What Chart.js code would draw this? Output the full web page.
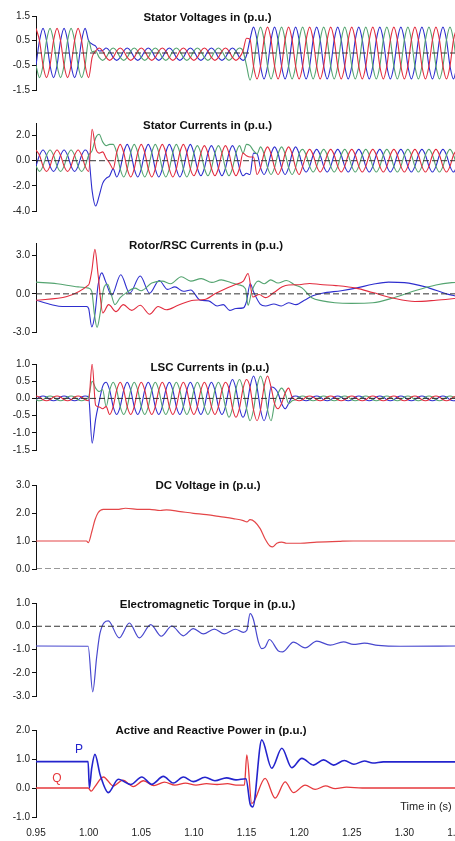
<!DOCTYPE html>
<html>
<head>
<meta charset="utf-8">
<script src="https://cdn.jsdelivr.net/npm/chart.js@4.4.1/dist/chart.umd.min.js"></script>
<style>
html, body { margin: 0; padding: 0; background: #fff; width: 455px; height: 841px; overflow: hidden; }
canvas { position: absolute; left: 0; }
</style>
</head>
<body>
<canvas id="c1"></canvas>
<canvas id="c2"></canvas>
<canvas id="c3"></canvas>
<canvas id="c4"></canvas>
<canvas id="c5"></canvas>
<canvas id="c6"></canvas>
<canvas id="c7"></canvas>
<script>
// time axis
const xTicks = [0.95, 1.00, 1.05, 1.10, 1.15, 1.20, 1.25, 1.30, 1.35];
// sampled waveforms: one value every 1/300 s from 0.95 s
const sampleStart = 0.95, sampleStep = 1 / 300;
const tGrid = [];
for (let k = 0; k <= 120; k++) tGrid.push(sampleStart + k * sampleStep);

// ---- Stator voltages
const svRed = [
  1,.5,-.5,-1,-.5,.5, 1,.5,-.5,-1,-.5,.5, 1,.5,-.5,-1,
  -.18,.08,.2,.08, -.18,-.3,-.18,.08,
  .2,.08,-.18,-.3,-.18,.08, .2,.08,-.18,-.3,-.18,.08, .2,.08,-.18,-.3,-.18,.08,
  .2,.08,-.18,-.3,-.18,.08, .2,.08,-.18,-.3,-.18,.08, .2,.08,-.18,-.3,-.18,.08,
  .6, .55, -.53,-1.05,-.53,.53,
  1.05,.53,-.53,-1.05,-.53,.53, 1.05,.53,-.53,-1.05,-.53,.53, 1.05,.53,-.53,-1.05,-.53,.53,
  1.05,.53,-.53,-1.05,-.53,.53, 1.05,.53,-.53,-1.05,-.53,.53, 1.05,.53,-.53,-1.05,-.53,.53,
  1.05,.53,-.53,-1.05,-.53,.53, 1.05,.53,-.53,-1.05,-.53,.53, 1.05,.53,-.53,-1.05,-.53,.53,
  1.05
];
const svGreen = [
  -.5,-1,-.5,.5,1,.5, -.5,-1,-.5,.5,1,.5, -.5,-1,-.5,.5,
  .05,.08,-.18,-.3, -.18,.08,.2,.08,
  -.18,-.3,-.18,.08,.2,.08, -.18,-.3,-.18,.08,.2,.08, -.18,-.3,-.18,.08,.2,.08,
  -.18,-.3,-.18,.08,.2,.08, -.18,-.3,-.18,.08,.2,.08, -.18,-.3,-.18,.08,.2,.08,
  -.5, -1.1, -.53,.53,1.05,.53,
  -.53,-1.05,-.53,.53,1.05,.53, -.53,-1.05,-.53,.53,1.05,.53, -.53,-1.05,-.53,.53,1.05,.53,
  -.53,-1.05,-.53,.53,1.05,.53, -.53,-1.05,-.53,.53,1.05,.53, -.53,-1.05,-.53,.53,1.05,.53,
  -.53,-1.05,-.53,.53,1.05,.53, -.53,-1.05,-.53,.53,1.05,.53, -.53,-1.05,-.53,.53,1.05,.53,
  -.53
];
const svBlue = [
  -.5,.5,1,.5,-.5,-1, -.5,.5,1,.5,-.5,-1, -.5,.5,1,.5,
  .36,.28,.08,.1, .2,.08,-.18,-.3,
  -.18,.08,.2,.08,-.18,-.3, -.18,.08,.2,.08,-.18,-.3, -.18,.08,.2,.08,-.18,-.3,
  -.18,.08,.2,.08,-.18,-.3, -.18,.08,.2,.08,-.18,-.3, -.18,.08,.2,.08,-.18,-.3,
  -.1, .55, 1.05,.53,-.53,-1.05,
  -.53,.53,1.05,.53,-.53,-1.05, -.53,.53,1.05,.53,-.53,-1.05, -.53,.53,1.05,.53,-.53,-1.05,
  -.53,.53,1.05,.53,-.53,-1.05, -.53,.53,1.05,.53,-.53,-1.05, -.53,.53,1.05,.53,-.53,-1.05,
  -.53,.53,1.05,.53,-.53,-1.05, -.53,.53,1.05,.53,-.53,-1.05, -.53,.53,1.05,.53,-.53,-1.05,
  -.53
];

// ---- Stator currents
const scRed = [
  .85,.43,-.43,-.85,-.43,.43, .85,.43,-.43,-.85,-.43,.43, .85,.43,-.43,-.85,
  2.5,1.0,.6,.7,.2,-.2,
  -.65,.65,
  1.3,.65,-.65,-1.3,-.65,.65, 1.3,.65,-.65,-1.3,-.65,.65, 1.3,.65,-.65,-1.3,-.65,.65,
  1.3,.65,-.65,
  -1.2,-.6,.6,
  1.2,.6,-.6,-1.2,-.6,.6, 1.2,.6,-.6,-1.2,-.6,.6,
  .4,.3,.3,
  -1.1,-.55,.55,
  1.1,.55,-.55,-1.1,-.55,.55,
  1.1,.55,-.55,-1.1,
  -.45,.45,
  .9,.45,-.45,-.9,-.45,.45, .9,.45,-.45,-.9,-.45,.45, .9,.45,-.45,-.9,-.45,.45,
  .9,.45,-.45,-.9,-.45,.45, .9,.45,-.45,-.9,-.45,.45, .9,.45,-.45,-.9,-.45,.45,
  .9,.45,-.45,-.9,-.45,.45,
  .9
];
const scGreen = [
  -.43,-.85,-.43,.43,.85,.43, -.43,-.85,-.43,.43,.85,.43, -.43,-.85,-.43,.43,
  .8,1.8,2.1,1.5,1.2,1.3,
  1.3,.65,
  -.65,-1.3,-.65,.65,1.3,.65, -.65,-1.3,-.65,.65,1.3,.65, -.65,-1.3,-.65,.65,1.3,.65,
  -.65,-1.3,-.65,
  .6,1.2,.6,
  -.6,-1.2,-.6,.6,1.2,.6, -.6,-1.2,-.6,.6,1.2,.6,
  1.3,1.2,.8,
  .55,1.1,.55,
  -.55,-1.1,-.55,.55,1.1,.55,
  -.55,-1.1,-.55,.55,
  .9,.45,
  -.45,-.9,-.45,.45,.9,.45, -.45,-.9,-.45,.45,.9,.45, -.45,-.9,-.45,.45,.9,.45,
  -.45,-.9,-.45,.45,.9,.45, -.45,-.9,-.45,.45,.9,.45, -.45,-.9,-.45,.45,.9,.45,
  -.45,-.9,-.45,.45,.9,.45,
  -.45
];
const scBlue = [
  -.43,.43,.85,.43,-.43,-.85, -.43,.43,.85,.43,-.43,-.85, -.43,.43,.85,.43,
  -2.4,-3.6,-2.8,-1.8,-1.4,-1.2,
  -.65,-1.3,
  -.65,.65,1.3,.65,-.65,-1.3, -.65,.65,1.3,.65,-.65,-1.3, -.65,.65,1.3,.65,-.65,-1.3,
  -.65,.65,1.3,
  .6,-.6,-1.2,
  -.6,.6,1.2,.6,-.6,-1.2, -.6,.6,1.2,.6,-.6,-1.2,
  -1.0,-1.1,.6,
  .55,-.55,-1.1,
  -.55,.55,1.1,.55,-.55,-1.1,
  -.55,.55,1.1,.55,
  -.45,-.9,
  -.45,.45,.9,.45,-.45,-.9, -.45,.45,.9,.45,-.45,-.9, -.45,.45,.9,.45,-.45,-.9,
  -.45,.45,.9,.45,-.45,-.9, -.45,.45,.9,.45,-.45,-.9, -.45,.45,.9,.45,-.45,-.9,
  -.45,.45,.9,.45,-.45,-.9,
  -.45
];

// ---- Rotor / RSC currents  [time, value]
const rotorRed = [
  [0.95,-0.5],[1.0,0.7],[1.003,1.8],[1.006,3.5],[1.009,1.5],[1.0135,-1.5],[1.019,-0.85],[1.026,-1.4],
  [1.033,-0.85],[1.041,-1.3],[1.049,-0.9],[1.058,-1.6],[1.066,-1.0],[1.074,-1.25],[1.085,-0.9],[1.1,-0.5],
  [1.11,-0.45],[1.12,0.0],[1.13,0.4],[1.14,0.75],[1.147,1.0],[1.1515,1.6],[1.156,-0.25],[1.162,-0.05],
  [1.168,-0.3],[1.176,0.1],[1.184,0.55],[1.19,0.7],[1.2,0.72],[1.21,0.82],[1.22,0.74],[1.235,0.65],
  [1.254,0.45],[1.27,0.1],[1.29,-0.35],[1.31,-0.6],[1.33,-0.5],[1.35,-0.35]
];
const rotorGreen = [
  [0.95,0.92],[0.97,0.8],[0.99,0.55],[1.0,0.45],[1.003,0.2],[1.0055,-1.6],[1.008,-2.65],[1.011,-1.5],
  [1.014,0.3],[1.018,0.76],[1.021,0.1],[1.025,-0.85],[1.03,-0.3],[1.036,0.1],[1.044,0.45],[1.05,0.25],
  [1.06,0.85],[1.07,1.0],[1.078,0.8],[1.088,1.35],[1.097,1.0],[1.107,1.2],[1.117,0.9],[1.126,1.1],
  [1.135,0.9],[1.143,0.7],[1.149,0.4],[1.1515,-0.9],[1.155,0.2],[1.161,1.0],[1.167,0.8],[1.173,1.1],
  [1.18,0.85],[1.188,1.05],[1.196,0.7],[1.203,0.45],[1.212,-0.3],[1.222,-0.55],[1.234,-0.7],[1.25,-0.75],
  [1.27,-0.7],[1.29,-0.3],[1.31,0.25],[1.33,0.7],[1.345,0.88],[1.35,0.9]
];
const rotorBlue = [
  [0.95,-0.5],[0.965,-0.85],[0.975,-1.0],[0.998,-1.0],[1.0,-1.15],[1.003,-2.6],[1.006,-1.6],[1.009,0.7],
  [1.0125,1.65],[1.016,1.0],[1.022,-0.1],[1.0305,1.5],[1.039,0.05],[1.049,1.4],[1.058,0.05],[1.067,1.05],
  [1.075,0.35],[1.082,0.55],[1.09,0.2],[1.097,0.3],[1.106,-0.5],[1.114,-0.55],[1.122,-0.95],[1.128,-0.85],
  [1.134,-1.3],[1.14,-1.15],[1.147,-1.1],[1.15,-0.6],[1.1535,0.8],[1.157,0.1],[1.163,-0.8],[1.168,-0.95],
  [1.176,-0.8],[1.183,-0.95],[1.19,-0.7],[1.197,-0.85],[1.205,-0.5],[1.213,-0.15],[1.222,0.05],[1.24,0.25],
  [1.254,0.45],[1.27,0.75],[1.285,0.92],[1.3,0.88],[1.32,0.55],[1.34,0.0],[1.35,-0.2]
];

// ---- LSC currents
const lcRed = [
  .07,.04,-.04,-.07,-.04,.04, .07,.04,-.04,-.07,-.04,.04, .07,.04,-.04,-.07,
  1.0,-.2,-.25,-.3,
  -.24,-.47,-.24,.24,
  .47,.24,-.24,-.47,-.24,.24, .47,.24,-.24,-.47,-.24,.24, .47,.24,-.24,-.47,-.24,.24,
  .47,.24,-.24,-.47,-.24,.24, .47,.24,-.24,-.47,-.24,.24,
  .47,
  .28,-.28,-.55,-.28,.28,
  .55,
  .33,-.33,-.65,-.33,.33,
  .65,.33,
  -.15,-.3,-.15,.15,
  .3,
  .04,-.04,-.07,-.04,.04,
  .07,.04,-.04,-.07,-.04,.04, .07,.04,-.04,-.07,-.04,.04, .07,.04,-.04,-.07,-.04,.04,
  .07,.04,-.04,-.07,-.04,.04, .07,.04,-.04,-.07,-.04,.04, .07,.04,-.04,-.07,-.04,.04,
  .07,.04,-.04,-.07,-.04,.04,
  .07
];
const lcGreen = [
  -.04,-.07,-.04,.04,.07,.04, -.04,-.07,-.04,.04,.07,.04, -.04,-.07,-.04,.04,
  .5,.3,.2,.25,
  -.24,.24,.47,.24,
  -.24,-.47,-.24,.24,.47,.24, -.24,-.47,-.24,.24,.47,.24, -.24,-.47,-.24,.24,.47,.24,
  -.24,-.47,-.24,.24,.47,.24, -.24,-.47,-.24,.24,.47,.24,
  -.24,
  -.55,-.28,.28,.55,.28,
  -.28,
  -.65,-.33,.33,.65,.33,
  -.33,-.65,
  -.15,.15,.3,.15,
  -.15,
  -.07,-.04,.04,.07,.04,
  -.04,-.07,-.04,.04,.07,.04, -.04,-.07,-.04,.04,.07,.04, -.04,-.07,-.04,.04,.07,.04,
  -.04,-.07,-.04,.04,.07,.04, -.04,-.07,-.04,.04,.07,.04, -.04,-.07,-.04,.04,.07,.04,
  -.04,-.07,-.04,.04,.07,.04,
  -.04
];
const lcBlue = [
  -.04,.04,.07,.04,-.04,-.07, -.04,.04,.07,.04,-.04,-.07, -.04,.04,.07,.04,
  -1.3,-.6,-.1,.35,
  .47,.24,-.24,-.47,
  -.24,.24,.47,.24,-.24,-.47, -.24,.24,.47,.24,-.24,-.47, -.24,.24,.47,.24,-.24,-.47,
  -.24,.24,.47,.24,-.24,-.47, -.24,.24,.47,.24,-.24,-.47,
  -.24,
  .28,.55,.28,-.28,-.55,
  -.28,
  .33,.65,.33,-.33,-.65,
  -.33,.33,
  .3,.15,-.15,-.3,
  -.15,
  .04,.07,.04,-.04,-.07,
  -.04,.04,.07,.04,-.04,-.07, -.04,.04,.07,.04,-.04,-.07, -.04,.04,.07,.04,-.04,-.07,
  -.04,.04,.07,.04,-.04,-.07, -.04,.04,.07,.04,-.04,-.07, -.04,.04,.07,.04,-.04,-.07,
  -.04,.04,.07,.04,-.04,-.07,
  -.04
];

// ---- DC voltage
const dcVoltage = [
  [0.95,1.0],[0.998,1.0],[0.9997,0.94],[1.003,1.33],[1.006,1.75],[1.009,2.01],[1.014,2.13],[1.027,2.13],
  [1.035,2.17],[1.049,2.13],[1.058,2.13],[1.068,2.09],[1.074,2.11],[1.087,2.05],[1.0995,1.99],[1.112,1.94],
  [1.125,1.87],[1.1375,1.8],[1.147,1.73],[1.1503,1.68],[1.1534,1.76],[1.158,1.68],[1.163,1.44],[1.1677,1.07],
  [1.172,0.83],[1.175,0.79],[1.1788,0.92],[1.1836,0.96],[1.188,0.92],[1.201,0.92],[1.2168,0.96],[1.239,0.99],
  [1.2513,1.0],[1.35,1.0]
];

// ---- Electromagnetic torque
const torque = [
  [0.95,-0.85],[0.9995,-0.86],[1.0039,-2.82],[1.0077,-1.3],[1.0108,-0.3],[1.0187,0.23],[1.029,-0.5],[1.0387,0.14],
  [1.0482,-0.5],[1.059,0.07],[1.069,-0.43],[1.079,0.01],[1.09,-0.41],[1.0995,-0.1],[1.109,-0.33],[1.1195,-0.12],
  [1.129,-0.33],[1.1395,-0.13],[1.147,-0.26],[1.1503,-0.17],[1.1534,0.54],[1.1565,0.3],[1.1613,-0.67],[1.1645,-0.96],
  [1.1677,-0.9],[1.1718,-0.57],[1.1803,-1.06],[1.1845,-1.1],[1.1946,-0.68],[1.2057,-0.93],[1.2168,-0.64],[1.2295,-0.81],
  [1.2421,-0.67],[1.2516,-0.78],[1.262,-0.73],[1.275,-0.82],[1.296,-0.86],[1.35,-0.85]
];

// ---- Active / reactive power
const activeP = [
  [0.95,0.91],[0.9995,0.91],[1.0007,0.0],[1.003,0.7],[1.006,1.16],[1.011,0.45],[1.0187,-0.16],[1.0282,0.3],
  [1.04,0.12],[1.0505,0.38],[1.06,0.13],[1.071,0.4],[1.0805,0.17],[1.09,0.38],[1.0995,0.22],[1.1106,0.37],
  [1.12,0.25],[1.131,0.35],[1.14,0.28],[1.1495,0.32],[1.1534,-0.54],[1.156,-0.65],[1.1645,1.66],[1.174,0.68],
  [1.1836,1.37],[1.193,0.7],[1.2026,1.02],[1.2137,0.79],[1.2232,0.97],[1.2327,0.79],[1.243,0.95],[1.252,0.82],
  [1.262,0.93],[1.27,0.86],[1.28,0.9],[1.35,0.9]
];
const reactiveQ = [
  [0.95,0.0],[0.9995,0.0],[1.0025,-0.11],[1.006,0.05],[1.014,0.38],[1.0235,0.07],[1.0325,0.27],[1.0425,0.05],
  [1.052,0.25],[1.062,0.08],[1.072,0.2],[1.082,0.1],[1.092,0.17],[1.102,0.1],[1.112,0.15],[1.122,0.12],
  [1.132,0.15],[1.14,0.1],[1.148,0.1],[1.1503,1.14],[1.155,-0.54],[1.1677,0.33],[1.1772,-0.35],[1.1867,0.21],
  [1.1946,-0.16],[1.2057,0.1],[1.2152,-0.05],[1.225,0.07],[1.2343,-0.02],[1.245,0.03],[1.26,0.0],[1.35,0.0]
];

// y tick labels per panel
const yTicksSV = [1.5, 0.5, -0.5, -1.5];
const yTicksSC = [2, 0, -2, -4];
const yTicksRC = [3, 0, -3];
const yTicksLC = [1, 0.5, 0, -0.5, -1, -1.5];
const yTicksDC = [3, 2, 1, 0];
const yTicksTQ = [1, 0, -1, -2, -3];
const yTicksPQ = [2, 1, 0, -1];

const RED = 'rgb(226,44,62)', GREEN = 'rgb(84,164,112)', BLUE = 'rgb(46,46,206)';
const FONT = '"Liberation Sans", Arial, Helvetica, sans-serif';
const TITLE_FONT = 'bold 11.5px ' + FONT;

const panelText = {
  id: 'panelText',
  afterDatasetsDraw(chart, args, opts) {
    const {ctx, chartArea} = chart;
    for (const it of opts.items || []) {
      ctx.save();
      ctx.font = it.font;
      ctx.fillStyle = it.color || '#111';
      ctx.textAlign = 'center';
      ctx.textBaseline = 'middle';
      ctx.fillText(it.text, chartArea.left + it.dx, chartArea.top + it.dy);
      ctx.restore();
    }
  }
};

function wave(values, color) {
  return {data: values.map((v, i) => ({x: tGrid[i], y: v})), borderColor: color, borderWidth: 1.1};
}
function trace(list, color, width) {
  return {data: list.map(p => ({x: p[0], y: p[1]})), borderColor: color, borderWidth: width || 1.1};
}
function zeroLine() {
  return {
    data: [{x: xTicks[0], y: 0}, {x: xTicks[xTicks.length - 1], y: 0}],
    borderColor: '#333', borderWidth: 1, borderDash: [6, 3], cubicInterpolationMode: 'default', tension: 0
  };
}

function makePanel(id, areaTop, areaBottom, yMin, yMax, yTicks, datasets, texts, showX) {
  const cv = document.getElementById(id);
  const xH = showX ? 24 : 0;
  cv.width = 469;
  cv.height = (areaBottom - areaTop) + 10 + (showX ? xH : 10);
  cv.style.top = (areaTop - 10) + 'px';
  new Chart(cv, {
    type: 'line',
    data: {datasets},
    options: {
      responsive: false,
      animation: false,
      events: [],
      layout: {padding: {top: 10, bottom: showX ? 0 : 10, left: 0, right: 12}},
      plugins: {legend: {display: false}, tooltip: {enabled: false}, panelText: {items: texts}},
      elements: {point: {radius: 0}, line: {cubicInterpolationMode: 'monotone'}},
      scales: {
        x: {
          type: 'linear', min: xTicks[0], max: xTicks[xTicks.length - 1], display: showX,
          afterBuildTicks: s => { s.ticks = xTicks.map(v => ({value: v})); },
          afterFit: s => { s.height = xH; s.paddingLeft = 0; s.paddingRight = 0; },
          grid: {display: false, drawTicks: false},
          border: {display: false},
          ticks: {padding: 10, autoSkip: false, maxRotation: 0, color: '#222',
                  font: {family: FONT, size: 10}, callback: v => v.toFixed(2)}
        },
        y: {
          min: yMin, max: yMax,
          afterBuildTicks: s => { s.ticks = yTicks.map(v => ({value: v})); },
          afterFit: s => { s.width = 36; s.paddingTop = 0; s.paddingBottom = 0; },
          grid: {drawOnChartArea: false, drawTicks: true, tickLength: 4, color: '#111', lineWidth: 1},
          border: {display: true, color: '#111', width: 1},
          ticks: {padding: 2, autoSkip: false, color: '#222',
                  font: {family: FONT, size: 10}, callback: v => v.toFixed(1)}
        }
      }
    },
    plugins: [panelText]
  });
}

makePanel('c1', 16, 90, -1.5, 1.5, yTicksSV,
  [zeroLine(), wave(svRed, RED), wave(svGreen, GREEN), wave(svBlue, BLUE)],
  [{text: 'Stator Voltages in (p.u.)', font: TITLE_FONT, dx: 171.5, dy: 2}], false);

makePanel('c2', 123, 211, -4, 3, yTicksSC,
  [zeroLine(), wave(scRed, RED), wave(scGreen, GREEN), wave(scBlue, BLUE)],
  [{text: 'Stator Currents in (p.u.)', font: TITLE_FONT, dx: 171.5, dy: 3}], false);

makePanel('c3', 243, 332, -3, 4, yTicksRC,
  [zeroLine(), trace(rotorRed, RED), trace(rotorGreen, GREEN), trace(rotorBlue, BLUE)],
  [{text: 'Rotor/RSC Currents in (p.u.)', font: TITLE_FONT, dx: 170, dy: 2.5}], false);

makePanel('c4', 364, 450, -1.5, 1, yTicksLC,
  [zeroLine(), wave(lcRed, RED), wave(lcGreen, GREEN), wave(lcBlue, BLUE)],
  [{text: 'LSC Currents in (p.u.)', font: TITLE_FONT, dx: 174, dy: 3.5}], false);

makePanel('c5', 485, 569, 0, 3, yTicksDC,
  [zeroLine(), trace(dcVoltage, 'rgb(228,70,72)', 1.2)],
  [{text: 'DC Voltage in (p.u.)', font: TITLE_FONT, dx: 172, dy: 1}], false);

makePanel('c6', 603, 696, -3, 1, yTicksTQ,
  [zeroLine(), trace(torque, 'rgb(72,72,206)', 1.2)],
  [{text: 'Electromagnetic Torque in (p.u.)', font: TITLE_FONT, dx: 171.5, dy: 2.3}], false);

makePanel('c7', 730, 817, -1, 2, yTicksPQ,
  [trace(activeP, 'rgb(36,36,205)', 1.6), trace(reactiveQ, 'rgb(230,56,60)', 1.3)],
  [{text: 'Active and Reactive Power in (p.u.)', font: TITLE_FONT, dx: 175, dy: 0.5},
   {text: 'P', font: '12px ' + FONT, color: 'rgb(36,36,205)', dx: 43, dy: 20},
   {text: 'Q', font: '12px ' + FONT, color: 'rgb(230,56,60)', dx: 21, dy: 49},
   {text: 'Time in (s)', font: '11px ' + FONT, color: '#222', dx: 390, dy: 77}], true);
</script>
</body>
</html>
